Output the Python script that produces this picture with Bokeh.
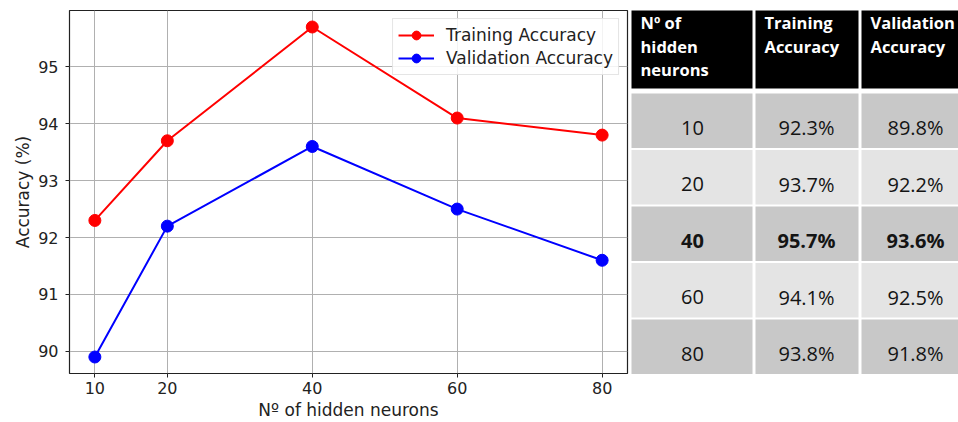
from bokeh.plotting import figure
from bokeh.layouts import row
from bokeh.models import Range1d, FixedTicker, ColumnDataSource
from bokeh.core.properties import value
from bokeh.embed import file_html
from bokeh.resources import INLINE

# ---------------- data ----------------
neurons = [10, 20, 40, 60, 80]
train_acc = [92.3, 93.7, 95.7, 94.1, 93.8]
val_acc = [89.9, 92.2, 93.6, 92.5, 91.6]
y_ticks = [90, 91, 92, 93, 94, 95]

table_neurons = ["10", "20", "40", "60", "80"]
table_train = ["92.3%", "93.7%", "95.7%", "94.1%", "93.8%"]
table_val = ["89.8%", "92.2%", "93.6%", "92.5%", "91.8%"]
header_cols = [["Nº of", "hidden", "neurons"],
               ["Training", "Accuracy"],
               ["Validation", "Accuracy"]]
bold_row = "40"

H = 422

# ---------------- chart ----------------
p = figure(width=629, height=H, x_range=Range1d(6.5, 83.5),
           y_range=Range1d(89.61, 95.99), output_backend="svg",
           toolbar_location=None, min_border_left=69, min_border_right=2,
           min_border_top=10, min_border_bottom=49)
p.frame_align = False
p.outline_line_color = "#222222"
p.outline_line_width = 1.2
p.xaxis.ticker = FixedTicker(ticks=neurons)
p.yaxis.ticker = FixedTicker(ticks=y_ticks)
for ax in (p.xaxis, p.yaxis):
    ax.axis_line_color = None
    ax.major_tick_in = 0
    ax.major_tick_out = 4
    ax.minor_tick_line_color = None
    ax.major_tick_line_color = "#222222"
    ax.major_label_text_font = "DejaVu Sans"
    ax.major_label_text_font_size = "16px"
    ax.major_label_text_color = "#222222"
    ax.axis_label_text_font = "DejaVu Sans"
    ax.axis_label_text_font_size = "17px"
    ax.axis_label_text_font_style = "normal"
    ax.axis_label_text_color = "#222222"
p.xaxis.major_label_standoff = 4
p.xaxis.axis_label_standoff = 3
p.yaxis.major_label_standoff = 7
p.yaxis.axis_label_standoff = 2
p.xaxis.axis_label = "Nº of hidden neurons"
p.yaxis.axis_label = "Accuracy (%)"
p.grid.grid_line_color = "#b0b0b0"
p.grid.grid_line_width = 1

p.line(neurons, train_acc, line_color="#ff0000", line_width=2, legend_label="Training Accuracy")
p.scatter(neurons, train_acc, size=12, fill_color="#ff0000", line_color="#ff0000", legend_label="Training Accuracy")
p.line(neurons, val_acc, line_color="#0000ff", line_width=2, legend_label="Validation Accuracy")
p.scatter(neurons, val_acc, size=12, fill_color="#0000ff", line_color="#0000ff", legend_label="Validation Accuracy")

lg = p.legend[0]
lg.location = "top_right"
lg.margin = 8
lg.padding = 5
lg.spacing = 1
lg.label_text_font = "DejaVu Sans"
lg.label_text_font_size = "17px"
lg.label_text_color = "#222222"
lg.glyph_width = 36
lg.glyph_height = 22
lg.label_height = 22
lg.label_standoff = 12
lg.border_line_color = "#cccccc"
lg.background_fill_alpha = 0.85

# ---------------- table ----------------
t = figure(width=329, height=H, x_range=Range1d(0, 329), y_range=Range1d(H, 0),
           output_backend="svg", toolbar_location=None, x_axis_type=None,
           y_axis_type=None, min_border=0)
t.frame_align = False
t.grid.visible = False
t.outline_line_color = None

col_left = [2, 126, 232]
col_right = [123, 229, 340]
hdr_top, hdr_bottom = 10, 88
row_top0, row_step, row_h = 93, 56.5, 54.5
dark, light = "#c8c8c8", "#e4e4e4"

# header
t.quad(left=col_left, right=col_right, top=[hdr_top] * 3, bottom=[hdr_bottom] * 3,
       fill_color="black", line_color=None)
hx, hy, htxt = [], [], []
for j, lines in enumerate(header_cols):
    for k, s in enumerate(lines):
        hx.append(col_left[j] + 9)
        hy.append(22 + 23.5 * k)
        htxt.append(s)
t.text(x=hx, y=hy, text=htxt, text_font=value("Open Sans"), text_font_size="16.5px",
       text_font_style="bold", text_color="white", text_baseline="middle", text_align="left")

# body
ql, qr, qt, qb, qc = [], [], [], [], []
cx, cy, ctxt, cstyle = [], [], [], []
centers = [63, 177, 286]
for i, n in enumerate(table_neurons):
    top = row_top0 + i * row_step
    for j in range(3):
        ql.append(col_left[j]); qr.append(col_right[j])
        qt.append(top); qb.append(top + row_h)
        qc.append(dark if i % 2 == 0 else light)
    for j, s in enumerate([n, table_train[i], table_val[i]]):
        cx.append(centers[j]); cy.append(top + 34)
        ctxt.append(s)
        cstyle.append("bold" if n == bold_row else "normal")
t.quad(left=ql, right=qr, top=qt, bottom=qb, fill_color=qc, line_color=None)
src = ColumnDataSource(dict(x=cx, y=cy, text=ctxt, style=cstyle))
t.text(x="x", y="y", text="text", source=src, text_font=value("Open Sans"),
       text_font_size="20px", text_font_style="style", text_color="#141414",
       text_baseline="middle", text_align="center")

layout = row(p, t, spacing=0)
open("out.html", "w").write(file_html(layout, INLINE))
